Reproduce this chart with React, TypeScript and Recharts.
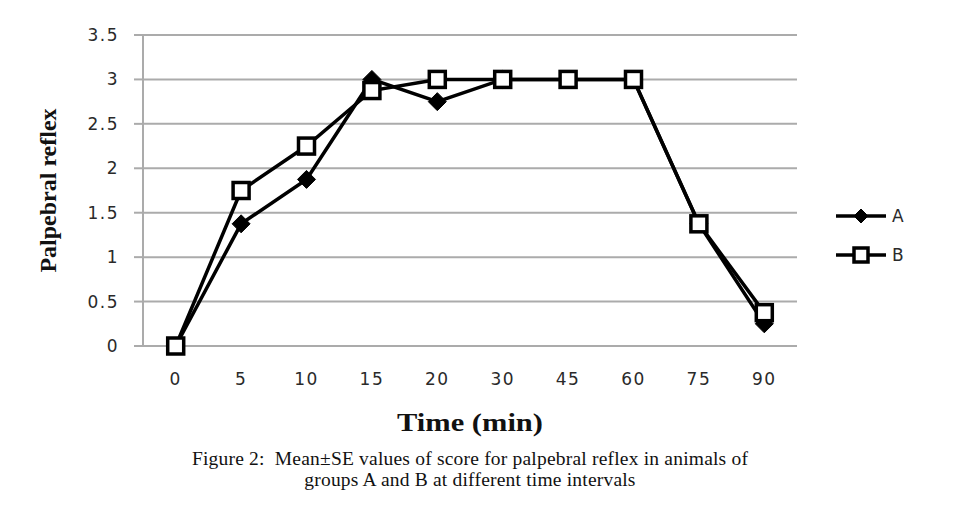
import React from 'react';
import { LineChart, Line, XAxis, YAxis, CartesianGrid, Legend } from 'recharts';

const times = ['0', '5', '10', '15', '20', '30', '45', '60', '75', '90'];
const groupA = [0, 1.375, 1.875, 3, 2.75, 3, 3, 3, 1.375, 0.25];
const groupB = [0, 1.75, 2.25, 2.875, 3, 3, 3, 3, 1.375, 0.375];
const yTicks = [0, 0.5, 1, 1.5, 2, 2.5, 3, 3.5];
const edgeTicks = [0, 1, 2, 3, 4, 5, 6, 7, 8, 9, 10];

const data = times.map((t, i) => ({ time: t, A: groupA[i], B: groupB[i] }));

const GRID = '#ababab';
const TICK_FONT = { fontFamily: 'DejaVu Sans', fontSize: 17, fill: '#2a2a2a', letterSpacing: 1.5 };

const Diamond = ({ cx, cy, size = 9 }: any) => (
  <polygon
    points={`${cx},${cy - size} ${cx + size},${cy} ${cx},${cy + size} ${cx - size},${cy}`}
    fill="#000"
    stroke="#000"
    strokeWidth={1}
  />
);

const Square = ({ cx, cy, size = 8 }: any) => (
  <rect x={cx - size} y={cy - size} width={size * 2} height={size * 2} fill="#fff" stroke="#000" strokeWidth={3.5} />
);

const renderLegend = ({ payload }: any) => (
  <div style={{ width: 80 }}>
    {(payload || []).map((entry: any) => (
      <div key={entry.value} style={{ display: 'flex', alignItems: 'center', height: 39 }}>
        <svg width={50} height={22}>
          <line x1={0} y1={11} x2={50} y2={11} stroke="#000" strokeWidth={3.5} />
          {entry.value === 'A' ? <Diamond cx={25} cy={11} size={7} /> : <Square cx={25} cy={11} size={7} />}
        </svg>
        <span style={{ fontFamily: 'DejaVu Sans', fontSize: 17, marginLeft: 6, letterSpacing: 1, color: '#2a2a2a' }}>
          {entry.value}
        </span>
      </div>
    ))}
  </div>
);

const App: React.FC = () => {
  return (
    <div style={{ position: 'absolute', left: 0, top: 0, width: 964, height: 520, background: '#fff' }}>
      <LineChart width={964} height={520} data={data} margin={{ top: 35, right: 87, bottom: 134, left: 83 }}>
        <CartesianGrid vertical={false} stroke={GRID} strokeWidth={2} />
        <XAxis
          xAxisId="edge"
          type="number"
          domain={[0, 10]}
          ticks={edgeTicks}
          height={0}
          tickFormatter={() => ''}
          axisLine={{ stroke: GRID, strokeWidth: 2 }}
          tickLine={{ stroke: GRID, strokeWidth: 2 }}
          tickSize={6}
        />
        <XAxis
          xAxisId="cat"
          dataKey="time"
          type="category"
          height={40}
          axisLine={false}
          tickLine={false}
          tickSize={6}
          tickMargin={21}
          padding={{ left: 32.7, right: 32.7 }}
          tick={TICK_FONT}
          label={{
            content: ({ viewBox }: any) => {
              const x = viewBox.x + viewBox.width / 2;
              const y = viewBox.y + 85;
              return (
                <text
                  x={0}
                  y={0}
                  transform={`translate(${x}, ${y}) scale(1.22, 1)`}
                  textAnchor="middle"
                  fontFamily="Liberation Serif"
                  fontWeight="bold"
                  fontSize={25}
                  fill="#111"
                >
                  Time (min)
                </text>
              );
            },
          }}
        />
        <YAxis
          width={60}
          domain={[0, 3.5]}
          ticks={yTicks}
          axisLine={{ stroke: GRID, strokeWidth: 2 }}
          tickLine={{ stroke: GRID, strokeWidth: 2 }}
          tickSize={9}
          tickMargin={15}
          tick={TICK_FONT}
          label={{
            content: ({ viewBox }: any) => {
              const x = viewBox.x - 35;
              const y = viewBox.y + viewBox.height / 2;
              return (
                <text
                  x={x}
                  y={y}
                  transform={`rotate(-90, ${x}, ${y})`}
                  textAnchor="middle"
                  dominantBaseline="central"
                  fontFamily="Liberation Serif"
                  fontWeight="bold"
                  fontSize={24}
                  fill="#111"
                >
                  Palpebral reflex
                </text>
              );
            },
          }}
        />
        <Legend
          layout="vertical"
          align="right"
          verticalAlign="middle"
          content={renderLegend}
          wrapperStyle={{ left: 836, top: 196, right: 'auto', width: 80 }}
        />
        <Line
          xAxisId="cat"
          dataKey="A"
          name="A"
          stroke="#000"
          strokeWidth={3.5}
          isAnimationActive={false}
          dot={(p: any) => <Diamond key={`a-${p.index}`} cx={p.cx} cy={p.cy} />}
        />
        <Line
          xAxisId="cat"
          dataKey="B"
          name="B"
          stroke="#000"
          strokeWidth={3.5}
          isAnimationActive={false}
          dot={(p: any) => <Square key={`b-${p.index}`} cx={p.cx} cy={p.cy} />}
        />
      </LineChart>
      <div
        style={{
          position: 'absolute',
          left: 0,
          top: 448,
          width: 940,
          textAlign: 'center',
          fontFamily: 'Liberation Serif',
          fontSize: 19.5,
          letterSpacing: 0.2,
          lineHeight: '21px',
          color: '#111',
        }}
      >
        Figure 2:&nbsp; Mean±SE values of score for palpebral reflex in animals of
        <br />
        groups A and B at different time intervals
      </div>
    </div>
  );
};

export default App;
